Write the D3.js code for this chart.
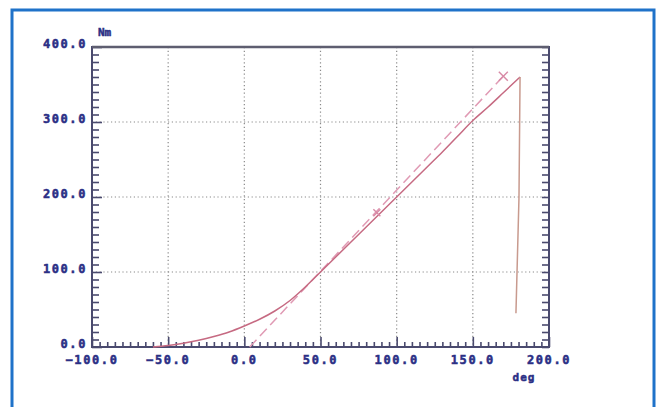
<!DOCTYPE html>
<html>
<head>
<meta charset="utf-8">
<script src="https://cdn.jsdelivr.net/npm/d3@7"></script>
<style>
  body { margin: 0; background: #fff; }
  svg text { font-family: "DejaVu Sans Mono", monospace; font-weight: bold; fill: #2b2f85; stroke: #2b2f85; stroke-width: 0.5; }
</style>
</head>
<body>
<svg id="chart" width="657" height="407"></svg>
<script>
// measured torque curve (deg, Nm)
const measAngle  = [-60, -50, -40, -30, -20, -10, 0, 10, 20, 30, 40, 50, 60, 70, 80, 90, 100, 110, 120, 130, 140, 150, 160, 170, 181, 180.3, 178.3];
const measTorque = [0, 2, 5, 9, 14, 20, 28, 37, 48, 62, 80, 100, 120, 140, 160, 180, 200, 220, 240, 260, 281, 302, 320, 339, 360, 200, 45];

// fitted line
const fitAngle  = [3.5, 170];
const fitTorque = [0, 361];

// cross markers
const markAngle  = [87, 170];
const markTorque = [179, 361];

const xTicks = [-100, -50, 0, 50, 100, 150, 200];
const yTicks = [0, 100, 200, 300, 400];

const svg = d3.select('#chart');

// blue frame
svg.append('rect')
    .attr('x', 12).attr('y', 10)
    .attr('width', 642).attr('height', 420)
    .attr('fill', 'none')
    .attr('stroke', '#1f72c9')
    .attr('stroke-width', 3);

const x = d3.scaleLinear().domain([-100, 200]).range([92, 549]);
const y = d3.scaleLinear().domain([0, 400]).range([347, 47]);

// grid
const grid = svg.append('g')
    .attr('stroke', '#8a8a8a')
    .attr('stroke-width', 1.2)
    .attr('stroke-dasharray', '1.2,2.6');
grid.selectAll('.gx')
    .data(xTicks.slice(1, -1))
    .join('line')
    .attr('x1', d => x(d)).attr('x2', d => x(d))
    .attr('y1', y(400)).attr('y2', y(0));
grid.selectAll('.gy')
    .data(yTicks.slice(1, -1))
    .join('line')
    .attr('x1', x(-100)).attr('x2', x(200))
    .attr('y1', d => y(d)).attr('y2', d => y(d));

// axes: ticks inward
const axisColor = '#4a4a6e';
const leftAxis = d3.axisRight(y).ticks(40).tickSize(7).tickFormat('');
const rightAxis = d3.axisLeft(y).ticks(40).tickSize(7).tickFormat('');
const bottomAxis = d3.axisTop(x).ticks(60).tickSize(5).tickFormat('');

const styleAxis = g => {
    g.select('.domain').remove();
    g.selectAll('line').attr('stroke', axisColor).attr('stroke-width', 1.6);
};

svg.append('g').attr('transform', `translate(${x(-100)},0)`).call(leftAxis).call(styleAxis)
    .selectAll('.tick line').filter(d => d % 100 === 0).attr('x2', 10);
svg.append('g').attr('transform', `translate(${x(200)},0)`).call(rightAxis).call(styleAxis);
svg.append('g').attr('transform', `translate(0,${y(0)})`).call(bottomAxis).call(styleAxis)
    .selectAll('.tick line').filter(d => d % 50 === 0).attr('y2', -10);

// frame
svg.append('rect')
    .attr('x', x(-100)).attr('y', y(400))
    .attr('width', x(200) - x(-100)).attr('height', y(0) - y(400))
    .attr('fill', 'none')
    .attr('stroke', axisColor)
    .attr('stroke-width', 2);
svg.append('line')
    .attr('x1', x(-100)).attr('x2', x(200))
    .attr('y1', y(400)).attr('y2', y(400))
    .attr('stroke', '#5e5e70').attr('stroke-width', 2.4);

// tick labels
svg.append('g').selectAll('text')
    .data(yTicks)
    .join('text')
    .attr('x', x(-100) - 5)
    .attr('y', d => y(d) + 1)
    .attr('text-anchor', 'end')
    .attr('font-size', 12)
    .attr('letter-spacing', 1.6)
    .text(d => d3.format('.1f')(d));

svg.append('g').selectAll('text')
    .data(xTicks)
    .join('text')
    .attr('x', d => x(d))
    .attr('y', y(0) + 17)
    .attr('text-anchor', 'middle')
    .attr('font-size', 12)
    .attr('letter-spacing', 1.6)
    .text(d => d3.format('.1f')(d));

svg.append('text').attr('x', 98).attr('y', 36).attr('font-size', 11).text('Nm');
svg.append('text').attr('x', 524).attr('y', 381).attr('text-anchor', 'middle')
    .attr('font-size', 11).attr('letter-spacing', 1).text('deg');

// curves
const line = d3.line().x(d => x(d[0])).y(d => y(d[1])).curve(d3.curveMonotoneX);
const lineLin = d3.line().x(d => x(d[0])).y(d => y(d[1]));

svg.append('path')
    .datum(d3.zip(fitAngle, fitTorque))
    .attr('d', lineLin)
    .attr('fill', 'none')
    .attr('stroke', '#e09ab4')
    .attr('stroke-width', 1.5)
    .attr('stroke-dasharray', '10,5');

const rise = d3.zip(measAngle, measTorque).slice(0, 25);
const drop = d3.zip(measAngle, measTorque).slice(24);
svg.append('path')
    .datum(rise)
    .attr('d', line)
    .attr('fill', 'none')
    .attr('stroke', '#c66a82')
    .attr('stroke-width', 1.5);
svg.append('path')
    .datum(drop)
    .attr('d', lineLin)
    .attr('fill', 'none')
    .attr('stroke', '#c89a8e')
    .attr('stroke-width', 1.5);

// cross markers
const cross = svg.append('g').attr('stroke', '#d88aa6').attr('stroke-width', 1.4);
d3.zip(markAngle, markTorque).forEach(([a, t], i) => {
    const s = i === markAngle.length - 1 ? 4.5 : 3.5;
    const cx = x(a), cy = y(t);
    cross.append('line').attr('x1', cx - s).attr('y1', cy - s).attr('x2', cx + s).attr('y2', cy + s);
    cross.append('line').attr('x1', cx - s).attr('y1', cy + s).attr('x2', cx + s).attr('y2', cy - s);
});
</script>
</body>
</html>
